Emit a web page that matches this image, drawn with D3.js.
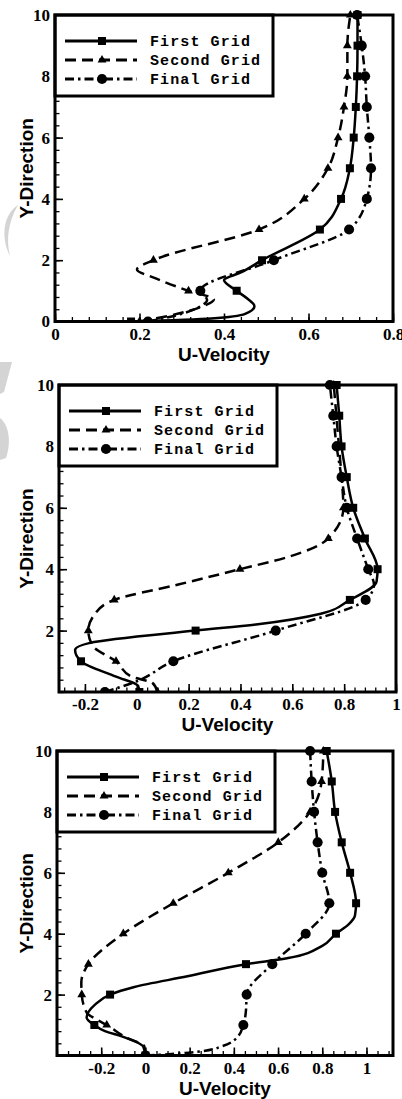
<!DOCTYPE html>
<html>
<head>
<meta charset="utf-8">
<script src="https://cdn.jsdelivr.net/npm/d3@7/dist/d3.min.js"></script>
<style>
  html, body { margin: 0; padding: 0; background: #ffffff; }
  svg { display: block; }
</style>
</head>
<body>
<svg id="chart" width="402" height="1099"></svg>
<script>
// ---- data: each profile is a list of [y, u] pairs (Y-Direction, U-Velocity) ----
const seriesNames = ["First Grid", "Second Grid", "Final Grid"];

// Panel 1
const p1First  = [[0,0.18],[0.1,0.37],[0.25,0.45],[0.5,0.472],[0.75,0.455],[1,0.43],[1.35,0.40],[1.6,0.44],[2,0.49],[3,0.627],[4,0.677],[5,0.698],[6,0.707],[7,0.712],[8,0.715],[9,0.716],[10,0.716]];
const p1Second = [[0,0.2],[0.25,0.29],[0.5,0.35],[0.72,0.376],[1,0.316],[1.4,0.24],[1.7,0.194],[2,0.233],[3,0.483],[4,0.59],[5,0.646],[6,0.67],[7,0.684],[8,0.692],[9,0.692],[10,0.699]];
const p1Final  = [[0,0.22],[0.25,0.3],[0.5,0.345],[0.7,0.36],[1,0.344],[2,0.518],[3,0.696],[4,0.738],[5,0.748],[6,0.744],[7,0.738],[8,0.734],[9,0.726],[10,0.715]];

// Panel 2
const p2First  = [[0,0.01],[0.2,0.005],[0.5,-0.08],[1,-0.215],[1.37,-0.238],[1.6,-0.18],[2,0.227],[2.2,0.46],[2.55,0.71],[3,0.822],[3.6,0.925],[4,0.929],[5,0.88],[6,0.835],[7,0.81],[8,0.79],[9,0.781],[10,0.771]];
const p2Second = [[0,0.08],[0.3,0.06],[0.5,-0.02],[1,-0.08],[1.5,-0.17],[2,-0.187],[2.5,-0.165],[3,-0.087],[3.5,0.16],[4,0.398],[4.4,0.585],[5,0.739],[6,0.797],[7,0.79],[8,0.78],[9,0.77],[10,0.76]];
const p2Final  = [[0,-0.123],[0.35,0.0],[1,0.141],[2,0.536],[3,0.883],[3.5,0.915],[4,0.893],[5,0.85],[6,0.81],[7,0.79],[8,0.771],[9,0.758],[10,0.745]];

// Panel 3
const p3First  = [[0,0.0],[0.3,-0.01],[0.41,-0.032],[0.63,-0.107],[0.8,-0.183],[1,-0.231],[1.25,-0.266],[1.67,-0.228],[2,-0.16],[2.25,-0.05],[2.6,0.19],[3,0.455],[3.2,0.646],[3.6,0.8],[4,0.862],[4.3,0.918],[4.6,0.948],[5,0.953],[6,0.926],[7,0.888],[8,0.858],[9,0.843],[10,0.82]];
const p3Second = [[0,0.0],[0.3,-0.005],[0.6,-0.09],[1,-0.175],[1.18,-0.22],[1.4,-0.265],[2,-0.288],[2.4,-0.29],[3,-0.258],[4,-0.1],[5,0.126],[6,0.375],[7,0.601],[8,0.745],[9,0.797],[10,0.805]];
const p3Final  = [[0,0.0],[0.05,0.12],[0.14,0.255],[0.3,0.345],[0.58,0.413],[1,0.443],[1.5,0.455],[2,0.458],[3,0.574],[4,0.725],[5,0.832],[6,0.8],[7,0.779],[8,0.763],[9,0.752],[10,0.745]];

// axes
const p1XDomain = [0, 0.8];
const p2XDomain = [-0.3, 1.0];
const p3XDomain = [-0.4, 1.12];
const p1XTicks = [0, 0.2, 0.4, 0.6, 0.8];
const p2XTicks = [-0.2, 0, 0.2, 0.4, 0.6, 0.8, 1];
const p3XTicks = [-0.2, 0, 0.2, 0.4, 0.6, 0.8, 1];
const p1YTicks = [0, 2, 4, 6, 8, 10];
const p2YTicks = [2, 4, 6, 8, 10];
const p3YTicks = [2, 4, 6, 8, 10];
const yDomain = [0, 10];
const xTitle = "U-Velocity";
const yTitle = "Y-Direction";

// ---- layout ----
const panels = [
  { left: 55, right: 393, top: 15,  bottom: 321.5, xDomain: p1XDomain, xTicks: p1XTicks, xMinor: 0.04, yTicks: p1YTicks, series: [p1First, p1Second, p1Final] },
  { left: 59, right: 396, top: 385, bottom: 692,   xDomain: p2XDomain, xTicks: p2XTicks, xMinor: 0.04, yTicks: p2YTicks, series: [p2First, p2Second, p2Final] },
  { left: 57, right: 393, top: 751, bottom: 1055.5, xDomain: p3XDomain, xTicks: p3XTicks, xMinor: 0.05, yTicks: p3YTicks, series: [p3First, p3Second, p3Final] }
];
const yMinorStep = 0.4;

const styles = [
  { dash: null,        symbol: d3.symbolSquare,   size: 64 },
  { dash: "11,6",      symbol: d3.symbolTriangle, size: 34 },
  { dash: "9,4,2.5,4", symbol: d3.symbolCircle,   size: 80 }
];

const svg = d3.select("#chart");

// soft grey watermark fragments along the left edge
const wm = svg.append("g").attr("fill", "#d4d4d4");
wm.append("path").attr("d", "M18,205 C4,214 0,236 10,256 C6,240 8,222 18,205 Z");
wm.append("path").attr("d", "M0,362 L12,362 L4,392 L0,394 Z");
wm.append("path").attr("d", "M0,418 C8,424 12,440 6,458 L0,460 Z");

const fmt = v => String(+v.toFixed(2));

function minorValues(lo, hi, step) {
  const out = [];
  for (let k = Math.ceil(lo / step - 1e-9); k <= Math.floor(hi / step + 1e-9); k++) out.push(+(k * step).toFixed(4));
  return out;
}

panels.forEach((p, i) => {
  const g = svg.append("g");
  const x = d3.scaleLinear().domain(p.xDomain).range([p.left, p.right]);
  const y = d3.scaleLinear().domain(yDomain).range([p.bottom, p.top]);

  const clipId = "clip" + i;
  svg.append("clipPath").attr("id", clipId)
    .append("rect")
    .attr("x", p.left).attr("y", p.top - 20)
    .attr("width", p.right - p.left).attr("height", p.bottom - p.top + 20);

  // minor ticks (inward)
  g.append("g")
    .attr("transform", `translate(0,${p.bottom})`)
    .call(d3.axisBottom(x).tickValues(minorValues(p.xDomain[0], p.xDomain[1], p.xMinor)).tickSize(-4.5).tickFormat(""))
    .call(a => a.select(".domain").remove())
    .selectAll("line").attr("stroke", "#000").attr("stroke-width", 1.3);
  g.append("g")
    .attr("transform", `translate(${p.left},0)`)
    .call(d3.axisLeft(y).tickValues(minorValues(0, 10, yMinorStep)).tickSize(-4.5).tickFormat(""))
    .call(a => a.select(".domain").remove())
    .selectAll("line").attr("stroke", "#000").attr("stroke-width", 1.3);

  // major ticks + labels
  const xa = g.append("g")
    .attr("transform", `translate(0,${p.bottom})`)
    .call(d3.axisBottom(x).tickValues(p.xTicks).tickSize(-8).tickPadding(6).tickFormat(fmt));
  xa.select(".domain").remove();
  xa.selectAll("line").attr("stroke", "#000").attr("stroke-width", 1.6);
  xa.selectAll("text")
    .attr("font-family", "'Liberation Serif', 'Times New Roman', serif")
    .attr("font-weight", "bold").attr("font-size", 17).attr("fill", "#000");

  const ya = g.append("g")
    .attr("transform", `translate(${p.left},0)`)
    .call(d3.axisLeft(y).tickValues(p.yTicks).tickSize(-8).tickPadding(5).tickFormat(fmt));
  ya.select(".domain").remove();
  ya.selectAll("line").attr("stroke", "#000").attr("stroke-width", 1.6);
  ya.selectAll("text")
    .attr("font-family", "'Liberation Serif', 'Times New Roman', serif")
    .attr("font-weight", "bold").attr("font-size", 17).attr("fill", "#000");

  // axis titles
  g.append("text")
    .attr("x", (p.left + p.right) / 2).attr("y", p.bottom + 39)
    .attr("text-anchor", "middle")
    .attr("font-family", "'Liberation Sans', Arial, sans-serif")
    .attr("font-weight", "bold").attr("font-size", 19)
    .text(xTitle);
  g.append("text")
    .attr("transform", `translate(33,${(p.top + p.bottom) / 2}) rotate(-90)`)
    .attr("text-anchor", "middle")
    .attr("font-family", "'Liberation Sans', Arial, sans-serif")
    .attr("font-weight", "bold").attr("font-size", 19)
    .text(yTitle);

  // profiles
  const line = d3.line().x(d => x(d[1])).y(d => y(d[0])).curve(d3.curveMonotoneY);
  const plot = g.append("g").attr("clip-path", `url(#${clipId})`);
  p.series.forEach((s, k) => {
    plot.append("path")
      .attr("d", line(s))
      .attr("fill", "none").attr("stroke", "#000").attr("stroke-width", 2.5)
      .attr("stroke-dasharray", styles[k].dash);
  });
  p.series.forEach((s, k) => {
    const sym = d3.symbol().type(styles[k].symbol).size(styles[k].size);
    plot.selectAll(null)
      .data(s.filter(d => Number.isInteger(d[0])))
      .join("path")
      .attr("d", sym)
      .attr("transform", d => `translate(${x(d[1])},${y(d[0])})`)
      .attr("fill", "#000");
  });

  // legend
  const lg = g.append("g").attr("transform", `translate(${p.left},${p.top})`);
  lg.append("rect").attr("x", 0).attr("y", 0).attr("width", 218).attr("height", 81)
    .attr("fill", "#fff").attr("stroke", "#000").attr("stroke-width", 3);
  seriesNames.forEach((name, k) => {
    const ry = 26 + k * 19;
    lg.append("line").attr("x1", 10).attr("x2", 82).attr("y1", ry).attr("y2", ry)
      .attr("stroke", "#000").attr("stroke-width", 2.8)
      .attr("stroke-dasharray", styles[k].dash);
    lg.append("path")
      .attr("d", d3.symbol().type(styles[k].symbol).size(styles[k].size)())
      .attr("transform", `translate(47,${ry})`).attr("fill", "#000");
    lg.append("text").attr("x", 95).attr("y", ry + 5)
      .attr("font-family", "'Liberation Mono', 'Courier New', monospace")
      .attr("font-weight", "bold").attr("font-size", 15).attr("letter-spacing", 1.1)
      .text(name);
  });

  // frame
  g.append("rect")
    .attr("x", p.left).attr("y", p.top)
    .attr("width", p.right - p.left).attr("height", p.bottom - p.top)
    .attr("fill", "none").attr("stroke", "#000").attr("stroke-width", 3);
});
</script>
</body>
</html>
